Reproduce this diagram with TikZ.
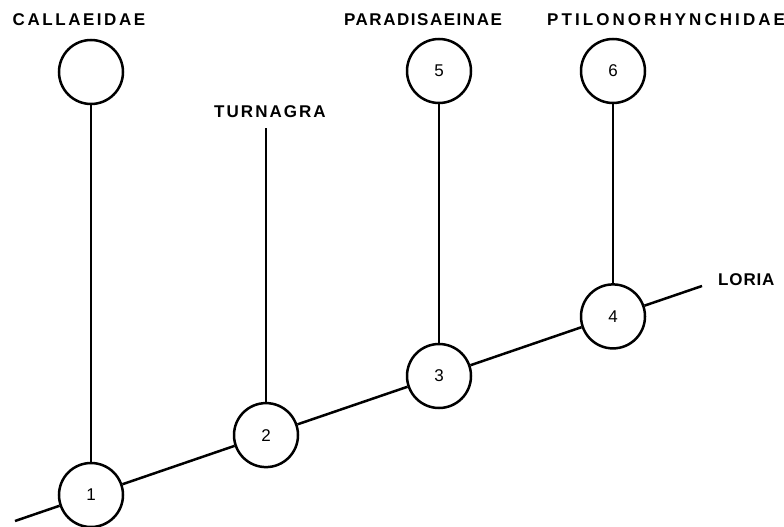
\documentclass[tikz,border=0pt]{standalone}
\usepackage{fontspec}
\setmainfont{Liberation Sans}
\begin{document}
\begin{tikzpicture}[x=1pt,y=-1pt,
  ln/.style={line width=2.5pt},
  nodec/.style={circle,draw,line width=2.5pt,minimum size=64pt,inner sep=0pt,font=\fontsize{17}{17}\selectfont},
  taxon/.style={inner sep=0pt,font=\fontsize{17}{17}\selectfont\bfseries\addfontfeature{LetterSpace=#1}},
  taxon/.default=14,
]
\useasboundingbox (0,0) rectangle (784,527);
% leaf circles
\node[nodec] (c0) at (91,72) {};
\node[nodec] (c5) at (439,71) {5};
\node[nodec] (c6) at (613,71) {6};
% internal nodes
\node[nodec] (n1) at (91,495) {1};
\node[nodec] (n2) at (266,435.1) {2};
\node[nodec] (n3) at (439,376) {3};
\node[nodec] (n4) at (613,316.4) {4};
% line ends
\coordinate (s) at (15,521);
\coordinate (e) at (702,286);
\coordinate (t) at (266,128);
% labels
\node[taxon=15] (lc) at (79,20) {CALLAEIDAE};
\node[taxon=9] (lp) at (423,20) {PARADISAEINAE};
\node[taxon=18,anchor=west] (lt) at (547,20) {PTILONORHYNCHIDAE};
\node[taxon=12] (lg) at (270,112) {TURNAGRA};
\node[taxon=5,anchor=west] (ll) at (718,280) {LORIA};
% connectors
\draw[ln] (s) -- (n1);
\draw[ln] (n1) -- (n2);
\draw[ln] (n2) -- (n3);
\draw[ln] (n3) -- (n4);
\draw[ln] (n4) -- (e);
\draw[ln] (c0) -- (n1);
\draw[ln] (c5) -- (n3);
\draw[ln] (c6) -- (n4);
\draw[ln] (t) -- (n2);
\end{tikzpicture}
\end{document}
